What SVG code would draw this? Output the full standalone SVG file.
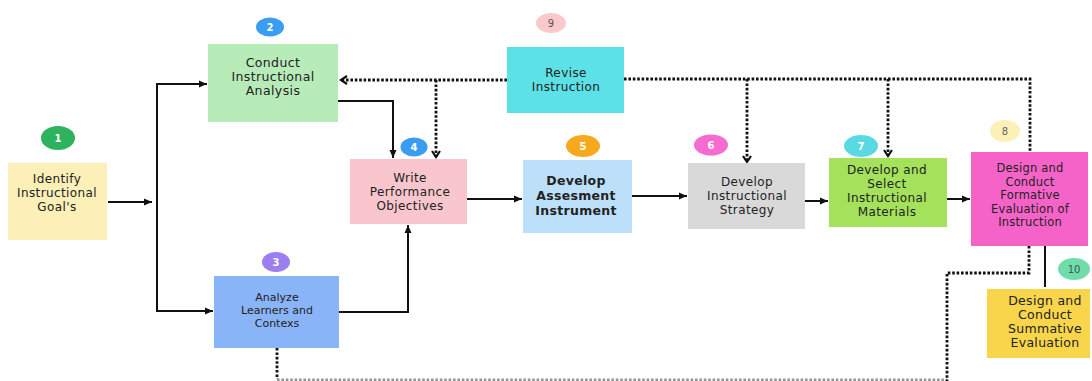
<svg xmlns="http://www.w3.org/2000/svg" width="1092" height="381" viewBox="0 0 1092 381">
<defs>
<style>
.lbl{font-family:"DejaVu Sans","Liberation Sans",sans-serif;font-size:12px;letter-spacing:0.4px;fill:#222;text-anchor:middle}
.num{font-family:"DejaVu Sans","Liberation Sans",sans-serif;font-size:10px;font-weight:bold;fill:#fff;text-anchor:middle}
.solid{fill:none;stroke:#111;stroke-width:2}
.dot{fill:none;stroke:#111;stroke-width:2.8;stroke-dasharray:2.6 1.8}
</style>
<marker id="ah" viewBox="0 0 8 8" refX="8" refY="4" markerWidth="8" markerHeight="8" markerUnits="userSpaceOnUse" orient="auto">
<path d="M0,0.5 L8,4 L0,7.5 z" fill="#111"/>
</marker>
<marker id="chev" viewBox="0 0 10 10" refX="8" refY="5" markerWidth="10" markerHeight="10" markerUnits="userSpaceOnUse" orient="auto">
<path d="M2,1 L8,5 L2,9" fill="none" stroke="#111" stroke-width="2.2"/>
</marker>
</defs>
<rect width="1092" height="381" fill="#fff"/>

<g id="connectors">
<path class="solid" d="M108,202 H152" marker-end="url(#ah)"/>
<path class="solid" d="M157,84 V311" stroke-width="2.5"/>
<path class="solid" d="M156,84 H207" marker-end="url(#ah)"/>
<path class="solid" d="M156,311 H213" marker-end="url(#ah)"/>
<path class="solid" d="M338,101 H393 V158" marker-end="url(#ah)"/>
<path class="solid" d="M339,312 H408 V225" marker-end="url(#ah)"/>
<path class="solid" d="M467,199 H522" marker-end="url(#ah)"/>
<path class="solid" d="M632,196 H687" marker-end="url(#ah)"/>
<path class="solid" d="M805,201 H828" marker-end="url(#ah)"/>
<path class="solid" d="M947,199 H970" marker-end="url(#ah)"/>
<path class="solid" d="M1045,246 V287" stroke-width="3"/>
<path class="dot" d="M507,80 H341" marker-end="url(#chev)"/>
<path class="dot" d="M436,80 V157" marker-end="url(#chev)"/>
<path class="dot" d="M624,79 H1030 V152"/>
<path class="dot" d="M747,79 V162" marker-end="url(#chev)"/>
<path class="dot" d="M888,79 V156" marker-end="url(#chev)"/>
<path class="dot" d="M1029,246 V273 H947 V381"/>
<path class="dot" d="M277,348 V379"/>
<path class="dot" d="M277,380 H947" stroke-width="2" opacity="0.45"/>
</g>

<g id="node1">
<rect x="8" y="163" width="99" height="77" fill="#fcefb7"/>
<text class="lbl"><tspan x="57" y="183">Identify</tspan><tspan x="57" y="197">Instructional</tspan><tspan x="57" y="211">Goal's</tspan></text>
<ellipse cx="58" cy="138" rx="17" ry="12" fill="#2db35d"/>
<text class="num" x="58" y="142">1</text>
</g>

<g id="node2">
<rect x="208" y="44" width="130" height="78" fill="#b7ecb9"/>
<text class="lbl" style="font-size:12.5px"><tspan x="273" y="67">Conduct</tspan><tspan x="273" y="81">Instructional</tspan><tspan x="273" y="95">Analysis</tspan></text>
<ellipse cx="270" cy="27" rx="14" ry="9.5" fill="#3a9df2"/>
<text class="num" x="270" y="31">2</text>
</g>

<g id="node3">
<rect x="214" y="276" width="125" height="72" fill="#8ab4f8"/>
<text class="lbl" style="font-size:11px;letter-spacing:0"><tspan x="277" y="301">Analyze</tspan><tspan x="277" y="314">Learners and</tspan><tspan x="277" y="327">Contexs</tspan></text>
<ellipse cx="276" cy="262" rx="14" ry="10" fill="#9c7ef0"/>
<text class="num" x="276" y="266">3</text>
</g>

<g id="node4">
<rect x="350" y="159" width="117" height="65" fill="#f9c6cd"/>
<text class="lbl"><tspan x="410" y="182">Write</tspan><tspan x="410" y="196">Performance</tspan><tspan x="410" y="210">Objectives</tspan></text>
<ellipse cx="414" cy="147" rx="13.5" ry="9.5" fill="#3a9df2"/>
<text class="num" x="414" y="151">4</text>
</g>

<g id="node5">
<rect x="523" y="160" width="109" height="73" fill="#bde0fa"/>
<text class="lbl" style="font-size:12.5px;font-weight:bold;letter-spacing:0.3px"><tspan x="576" y="185">Develop</tspan><tspan x="576" y="200">Assesment</tspan><tspan x="576" y="215">Instrument</tspan></text>
<ellipse cx="583" cy="146" rx="17" ry="11" fill="#f6a91f"/>
<text class="num" x="583" y="150">5</text>
</g>

<g id="node6">
<rect x="688" y="163" width="117" height="66" fill="#d9d9d9"/>
<text class="lbl"><tspan x="747" y="186">Develop</tspan><tspan x="747" y="200">Instructional</tspan><tspan x="747" y="214">Strategy</tspan></text>
<ellipse cx="711" cy="145" rx="17" ry="10.5" fill="#f56bd0"/>
<text class="num" x="711" y="149">6</text>
</g>

<g id="node7">
<rect x="829" y="158" width="118" height="69" fill="#a4e25c"/>
<text class="lbl"><tspan x="887" y="174">Develop and</tspan><tspan x="887" y="188">Select</tspan><tspan x="887" y="202">Instructional</tspan><tspan x="887" y="216">Materials</tspan></text>
<ellipse cx="861" cy="146" rx="17" ry="11" fill="#5bd9e3"/>
<text class="num" x="861" y="150">7</text>
</g>

<g id="node8">
<rect x="971" y="152" width="117" height="94" fill="#f663c8"/>
<text class="lbl" style="font-size:11.5px;letter-spacing:0.2px"><tspan x="1030" y="172">Design and</tspan><tspan x="1030" y="185.5">Conduct</tspan><tspan x="1030" y="199">Formative</tspan><tspan x="1030" y="212.5">Evaluation of</tspan><tspan x="1030" y="226">Instruction</tspan></text>
<ellipse cx="1005" cy="131" rx="15" ry="11" fill="#fbf0b8"/>
<text class="num" x="1005" y="135" style="fill:#666;font-weight:normal">8</text>
</g>

<g id="node9">
<rect x="507" y="47" width="117" height="66" fill="#5ce1e6"/>
<text class="lbl"><tspan x="566" y="77">Revise</tspan><tspan x="566" y="91">Instruction</tspan></text>
<ellipse cx="551" cy="23" rx="15" ry="10" fill="#fbc8cc"/>
<text class="num" x="551" y="27" style="fill:#555;font-weight:normal">9</text>
</g>

<g id="node10">
<rect x="987" y="289" width="103" height="69" fill="#f9d54c"/>
<text class="lbl" style="font-size:12.5px;letter-spacing:0.3px"><tspan x="1045" y="305">Design and</tspan><tspan x="1045" y="319">Conduct</tspan><tspan x="1045" y="333">Summative</tspan><tspan x="1045" y="347">Evaluation</tspan></text>
<ellipse cx="1074" cy="269" rx="16" ry="11" fill="#6fdcaa"/>
<text class="num" x="1074" y="273" style="fill:#3d5a50;font-weight:normal">10</text>
</g>
</svg>
